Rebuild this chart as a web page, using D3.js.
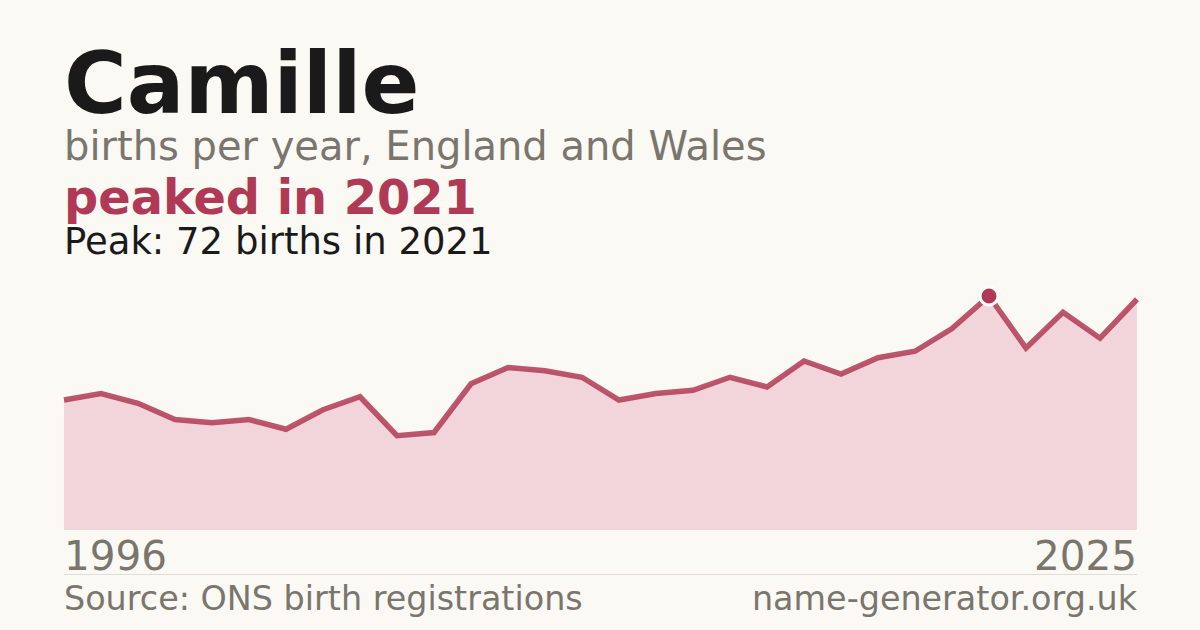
<!DOCTYPE html>
<html>
<head>
<meta charset="utf-8">
<script src="https://cdn.jsdelivr.net/npm/d3@7"></script>
<style>
  html, body { margin: 0; padding: 0; background: #faf9f4; }
  svg { display: block; font-family: "DejaVu Sans", sans-serif; }
</style>
</head>
<body>
<svg width="1200" height="630"></svg>
<script>
// Datos
const years = d3.range(1996, 2026)
const births = [40, 42, 39, 34, 33, 34, 31, 37, 41, 29,
                30, 45, 50, 49, 47, 40, 42, 43, 47, 44,
                52, 48, 53, 55, 62, 72, 56, 67, 59, 71]
const peakYear = 2021
const peakValue = 72
const xTickLabels = ["1996", "2025"]

// Dimensiones
const svgWidth = 1200
const svgHeight = 630
const chartLeft = 64
const chartRight = 1137
const chartTop = 296
const chartBottom = 530

const accent = "#b03a55"
const grey = "#7a756d"

const svg = d3.select("svg")

svg.append("rect")
  .attr("width", svgWidth)
  .attr("height", svgHeight)
  .attr("fill", "#faf9f4")

// Escalas
const xScale = d3.scaleLinear([1996, 2025], [chartLeft, chartRight])
const yScale = d3.scaleLinear([0, peakValue], [chartBottom, chartTop])

const data = years.map((y, i) => ({year: y, value: births[i]}))

// Títulos
svg.append("text")
  .attr("x", 64).attr("y", 113)
  .attr("font-size", "85.5px").attr("font-weight", "bold")
  .attr("fill", "#1a1a1a")
  .text("Camille")

svg.append("text")
  .attr("x", 64).attr("y", 160)
  .attr("font-size", "40px")
  .attr("fill", grey)
  .text("births per year, England and Wales")

svg.append("text")
  .attr("x", 64).attr("y", 214)
  .attr("font-size", "47.8px").attr("font-weight", "bold")
  .attr("fill", accent)
  .text("peaked in 2021")

svg.append("text")
  .attr("x", 64).attr("y", 254)
  .attr("font-size", "37px")
  .attr("fill", "#1a1a1a")
  .text(`Peak: ${peakValue} births in ${peakYear}`)

// Área y línea
const area = d3.area()
  .x(d => xScale(d.year))
  .y0(chartBottom)
  .y1(d => yScale(d.value))

const line = d3.line()
  .x(d => xScale(d.year))
  .y(d => yScale(d.value))

svg.append("path")
  .datum(data)
  .attr("d", area)
  .attr("fill", "#f2d5da")

svg.append("path")
  .datum(data)
  .attr("d", line)
  .attr("fill", "none")
  .attr("stroke", accent)
  .attr("stroke-opacity", 0.85)
  .attr("stroke-width", 5.5)
  .attr("stroke-linejoin", "miter")

// Punto máximo
svg.append("circle")
  .attr("cx", xScale(peakYear))
  .attr("cy", yScale(peakValue))
  .attr("r", 9)
  .attr("fill", accent)
  .attr("stroke", "#ffffff")
  .attr("stroke-width", 3)

// Eje x (solo extremos)
svg.selectAll(".year-label")
  .data(xTickLabels)
  .join("text")
    .attr("class", "year-label")
    .attr("x", d => xScale(+d))
    .attr("y", 570)
    .attr("text-anchor", (d, i) => i === 0 ? "start" : "end")
    .attr("font-size", "40.5px")
    .attr("fill", grey)
    .text(d => d)

svg.append("line")
  .attr("x1", chartLeft).attr("x2", chartRight)
  .attr("y1", 574.5).attr("y2", 574.5)
  .attr("stroke", "#e2ded6")
  .attr("stroke-width", 1)

// Pie
svg.append("text")
  .attr("x", 64).attr("y", 610)
  .attr("font-size", "33.4px")
  .attr("fill", grey)
  .text("Source: ONS birth registrations")

svg.append("text")
  .attr("x", chartRight).attr("y", 610)
  .attr("text-anchor", "end")
  .attr("font-size", "33.4px")
  .attr("fill", grey)
  .text("name-generator.org.uk")
</script>
</body>
</html>
